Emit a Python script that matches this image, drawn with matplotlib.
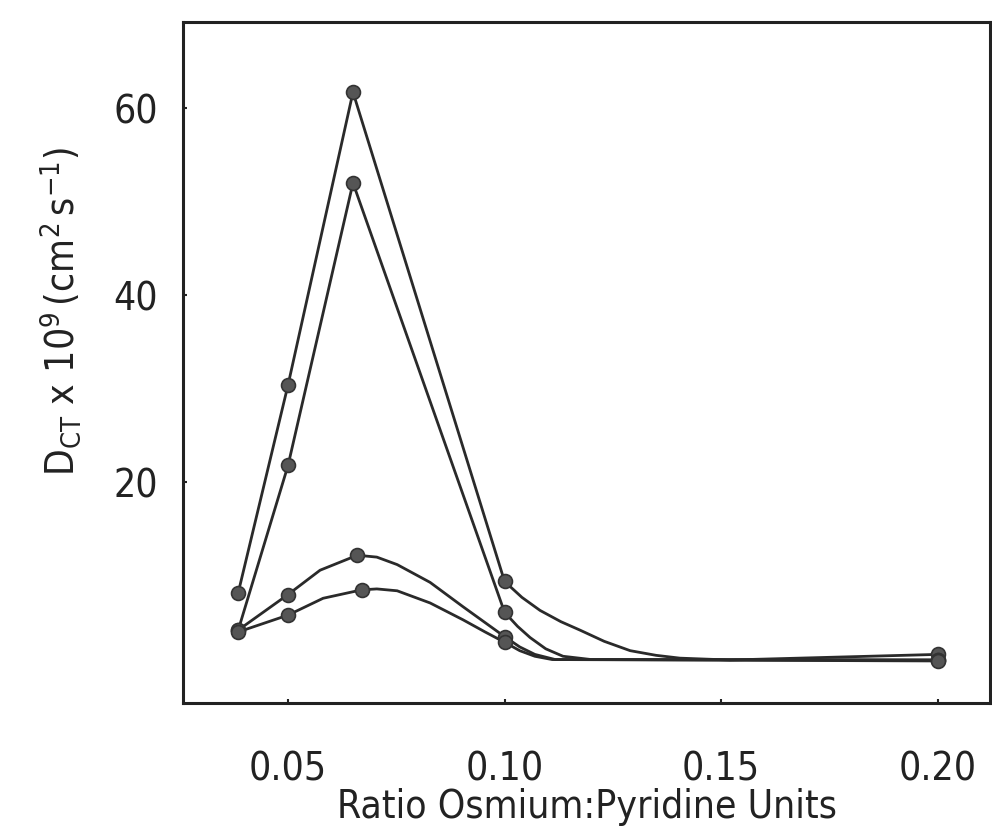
import matplotlib
matplotlib.use("Agg")
import matplotlib.pyplot as plt

plt.rcParams['font.family'] = ['DejaVu Sans']
plt.rcParams['font.stretch'] = 'condensed'
plt.rcParams['mathtext.fontset'] = 'custom'
plt.rcParams['mathtext.rm'] = 'DejaVu Sans:stretch=condensed'

# measured points (markers)
s1_x = [0.0385, 0.05, 0.065, 0.10, 0.20]
s1_y = [8.2, 30.4, 61.7, 9.4, 1.6]
s2_x = [0.0385, 0.05, 0.065, 0.10, 0.20]
s2_y = [4.2, 21.8, 52.0, 6.1, 1.0]
s3_x = [0.0385, 0.05, 0.066, 0.10, 0.20]
s3_y = [4.2, 8.0, 12.2, 3.5, 1.0]
s4_x = [0.0385, 0.05, 0.067, 0.10, 0.20]
s4_y = [4.0, 5.8, 8.5, 2.9, 0.9]

# curve traces
c1_x = [0.0385, 0.05, 0.065, 0.10, 0.104, 0.1082, 0.113, 0.1174, 0.123, 0.129, 0.135, 0.1405, 0.152, 0.20]
c1_y = [8.2, 30.4, 61.7, 9.4, 7.7, 6.3, 5.1, 4.2, 3.0, 2.0, 1.5, 1.2, 1.0, 1.6]
c2_x = [0.0385, 0.05, 0.065, 0.10, 0.103, 0.1059, 0.1095, 0.1135, 0.12, 0.20]
c2_y = [4.2, 21.8, 52.0, 6.1, 4.6, 3.4, 2.2, 1.4, 1.05, 1.0]
c3_x = [0.0385, 0.05, 0.0574, 0.066, 0.0705, 0.0752, 0.0828, 0.0904, 0.0973, 0.10, 0.1035, 0.107, 0.1117, 0.20]
c3_y = [4.2, 8.0, 10.6, 12.2, 12.0, 11.2, 9.3, 6.7, 4.4, 3.5, 2.4, 1.6, 1.05, 1.0]
c4_x = [0.0385, 0.05, 0.0581, 0.067, 0.0705, 0.0752, 0.0828, 0.0904, 0.0955, 0.10, 0.1035, 0.107, 0.111, 0.20]
c4_y = [4.0, 5.8, 7.6, 8.5, 8.6, 8.4, 7.1, 5.3, 4.0, 2.9, 2.0, 1.4, 1.05, 0.9]

x_ticks = [0.05, 0.10, 0.15, 0.20]
x_labels = ['0.05', '0.10', '0.15', '0.20']
y_ticks = [20, 40, 60]
y_labels = ['20', '40', '60']

fig = plt.figure(figsize=(9.92, 8.33), dpi=100)
ax = fig.add_axes([0.1845, 0.156, 0.8135, 0.8176])

lc = '#2a2a2a'
for cx, cy in [(c1_x, c1_y), (c2_x, c2_y), (c3_x, c3_y), (c4_x, c4_y)]:
    ax.plot(cx, cy, color=lc, lw=2.0, solid_capstyle='round', solid_joinstyle='round')
for mx, my in [(s1_x, s1_y), (s2_x, s2_y), (s3_x, s3_y), (s4_x, s4_y)]:
    ax.plot(mx, my, ls='none', marker='o', ms=10, mfc='#555555', mec='#333333', mew=1.2)

ax.set_xlim(0.02575, 0.2121)
ax.set_ylim(-3.6, 69.2)
ax.set_xticks(x_ticks)
ax.set_xticklabels(x_labels)
ax.set_yticks(y_ticks)
ax.set_yticklabels(y_labels)
ax.tick_params(direction='in', length=3, width=1.5, labelsize=28, colors='#222222')
ax.tick_params(axis='x', pad=34)
ax.tick_params(axis='y', pad=18)
for sp in ax.spines.values():
    sp.set_linewidth(2.2)
    sp.set_color('#222222')

ax.set_xlabel('Ratio Osmium:Pyridine Units', fontsize=28, color='#222222', labelpad=0)
ax.set_ylabel(r'$\mathregular{D_{CT}\ x\ 10^{9}\,(cm^{2}\,s^{-1})}$', fontsize=28,
              color='#222222', labelpad=22)
ax.yaxis.label.set_y(0.575)

fig.savefig('out.png', dpi=100, facecolor='white')
